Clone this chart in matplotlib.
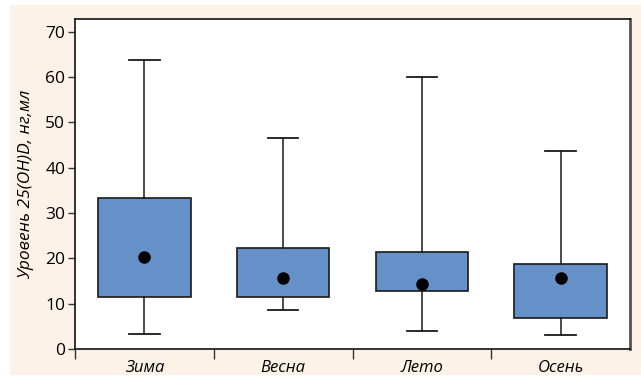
import matplotlib
matplotlib.use("Agg")
import matplotlib.pyplot as plt
from matplotlib.patches import Rectangle

categories = ["Зима", "Весна", "Лето", "Осень"]
whisker_low = [3.4, 8.6, 4.0, 3.1]
q1 = [11.5, 11.4, 12.8, 6.9]
center_dot = [20.3, 15.6, 14.3, 15.6]
q3 = [33.4, 22.3, 21.5, 18.8]
whisker_high = [63.7, 46.5, 59.9, 43.6]
y_ticks = [0, 10, 20, 30, 40, 50, 60, 70]
y_label = "Уровень 25(OH)D, нг,мл"

plt.rcParams['font.family'] = ['Open Sans', 'DejaVu Sans']

fig = plt.figure(figsize=(6.41, 3.77), dpi=100)
fig.patch.set_facecolor("white")
fig.add_artist(Rectangle((10/641, 2/377), 631/641, 370/377, transform=fig.transFigure,
                         facecolor="#fdf2e8", edgecolor="none", zorder=-10))

ax = fig.add_axes([75/641, 28/377, 555/641, 330/377])
ax.set_facecolor("white")

stats = []
for i in range(len(categories)):
    stats.append(dict(whislo=whisker_low[i], q1=q1[i], med=center_dot[i],
                      mean=center_dot[i], q3=q3[i], whishi=whisker_high[i],
                      fliers=[], label=categories[i]))
positions = list(range(1, len(categories) + 1))
ax.bxp(stats, positions=positions, widths=0.667, capwidths=0.22,
       showmeans=True, showfliers=False, patch_artist=True,
       boxprops=dict(facecolor="#6690c8", edgecolor="#1a1a1a", linewidth=1.2),
       whiskerprops=dict(color="#1a1a1a", linewidth=1.1),
       capprops=dict(color="#1a1a1a", linewidth=1.3),
       medianprops=dict(linewidth=0),
       meanprops=dict(marker="o", markerfacecolor="black", markeredgecolor="black",
                      markersize=8))

ax.set_xlim(0.5, len(categories) + 0.5)
ax.set_ylim(0, 72.8)
ax.set_yticks(y_ticks)
ax.tick_params(axis="y", labelsize=12.5, length=5, width=1, color="#333333", pad=2)
ax.set_xticks([p - 0.5 for p in positions])
ax.set_xticklabels([])
ax.set_xticks(positions, minor=True)
ax.set_xticklabels(categories, minor=True, fontstyle="italic", fontsize=12)
ax.tick_params(axis="x", which="major", length=7, width=1, color="#333333")
ax.tick_params(axis="x", which="minor", length=0, pad=8)
ax.set_ylabel(y_label, fontstyle="italic", fontsize=12.5, labelpad=8)

for s in ["left", "top", "bottom"]:
    ax.spines[s].set_color("#111111")
    ax.spines[s].set_linewidth(1.2)
ax.spines["right"].set_color("#555555")
ax.spines["right"].set_linewidth(2)

fig.savefig("out.png", dpi=100)
